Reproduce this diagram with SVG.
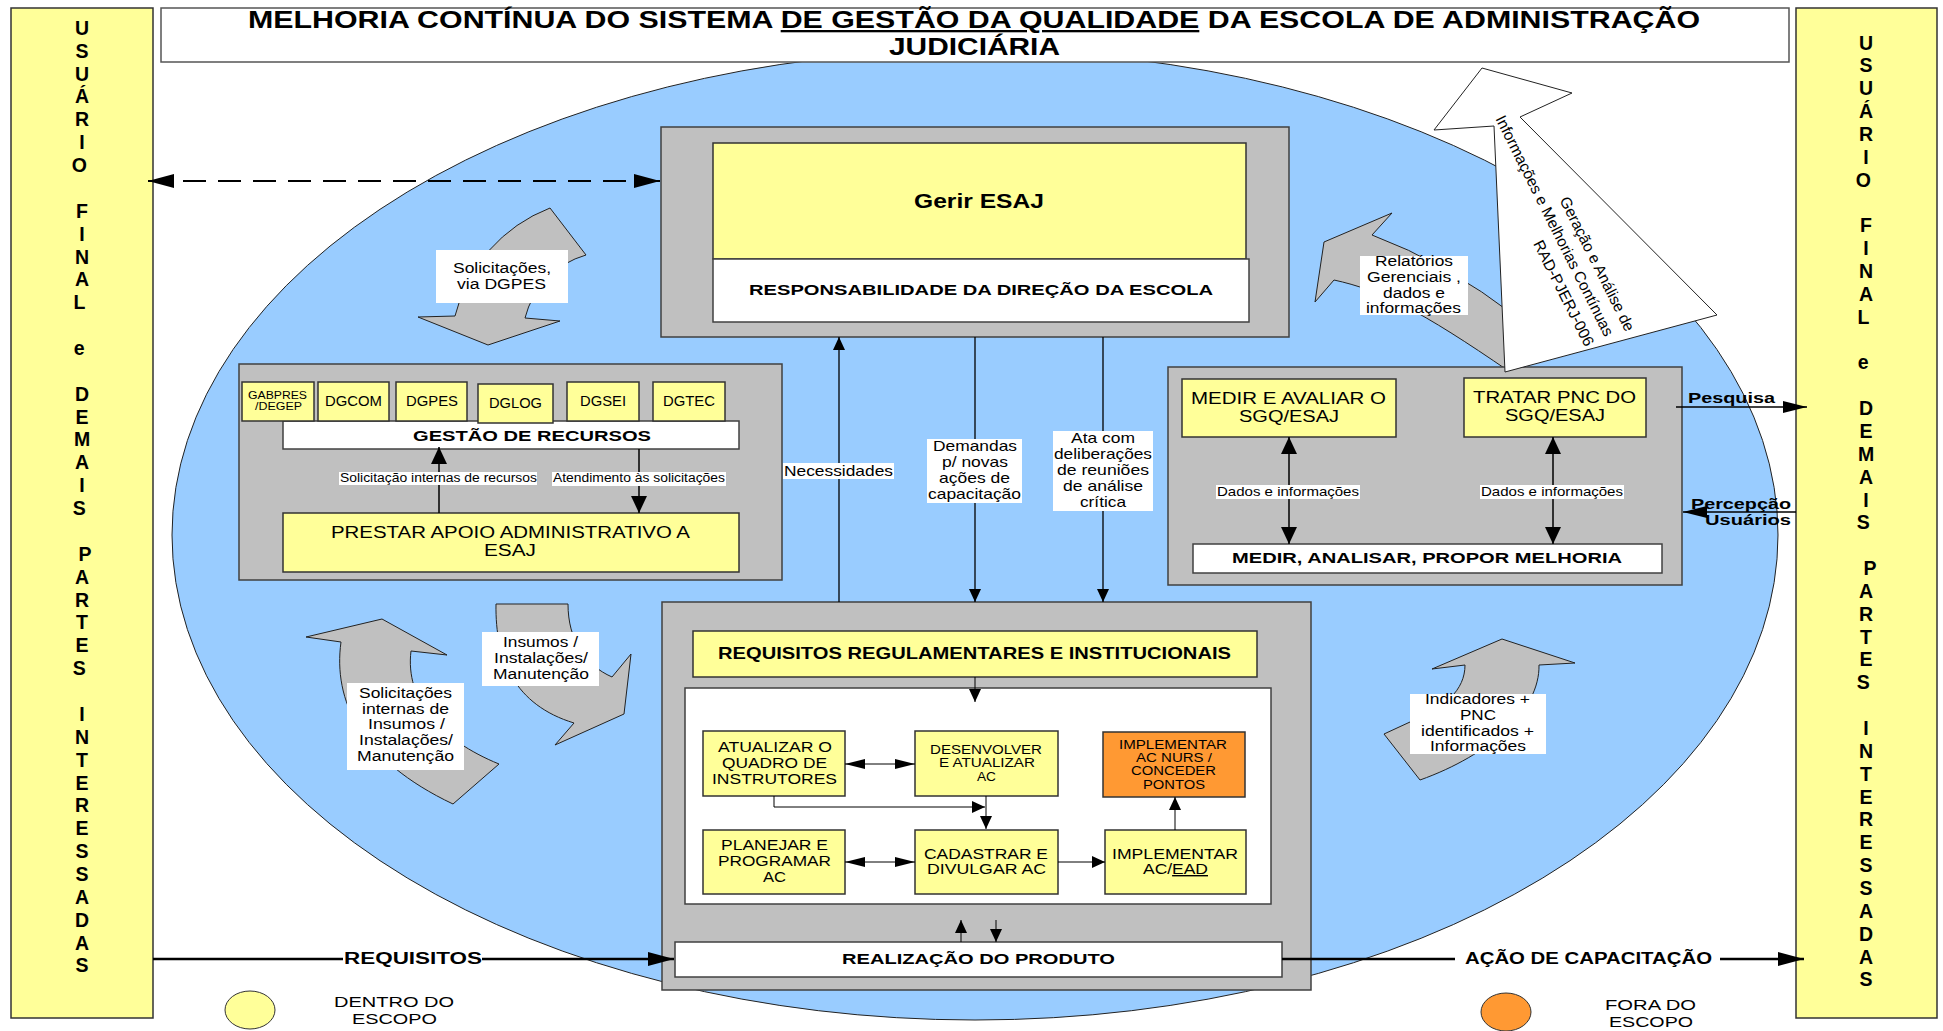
<svg xmlns="http://www.w3.org/2000/svg" width="1943" height="1031" viewBox="0 0 1943 1031">
<defs>
<style>
text{font-family:"Liberation Sans",Arial,sans-serif;fill:#000}
.b{font-weight:bold}
.yl{fill:#FFFF99;stroke:#333;stroke-width:1.5}
.gr{fill:#C0C0C0;stroke:#404040;stroke-width:1.5}
.wh{fill:#fff;stroke:#404040;stroke-width:1.5}
.or{fill:#FF9933;stroke:#333;stroke-width:1.5}
.bg{fill:#fff;stroke:none}
.sh{fill:#C0C0C0;stroke:#222;stroke-width:1}
.ln{stroke:#000;fill:none}
.side{font-weight:bold;font-size:19.5px;text-anchor:middle}
</style>
<marker id="aL" viewBox="0 0 26 14" refX="26" refY="7" markerWidth="26" markerHeight="14" markerUnits="userSpaceOnUse" orient="auto-start-reverse"><path d="M0,0L26,7L0,14z"/></marker>
<marker id="aM" viewBox="0 0 24 12" refX="24" refY="6" markerWidth="24" markerHeight="12" markerUnits="userSpaceOnUse" orient="auto-start-reverse"><path d="M0,0L24,6L0,12z"/></marker>
<marker id="aD" viewBox="0 0 17 16" refX="17" refY="8" markerWidth="17" markerHeight="16" markerUnits="userSpaceOnUse" orient="auto-start-reverse"><path d="M0,0L17,8L0,16z"/></marker>
<marker id="aS" viewBox="0 0 13 12" refX="13" refY="6" markerWidth="13" markerHeight="12" markerUnits="userSpaceOnUse" orient="auto-start-reverse"><path d="M0,0L13,6L0,12z"/></marker>
<marker id="aH" viewBox="0 0 20 10" refX="20" refY="5" markerWidth="20" markerHeight="10" markerUnits="userSpaceOnUse" orient="auto-start-reverse"><path d="M0,0L20,5L0,10z"/></marker>
</defs>
<rect x="0" y="0" width="1943" height="1031" fill="#fff"/>
<ellipse id="escopo" cx="975" cy="535" rx="803" ry="485" fill="#99CCFF" stroke="#222" stroke-width="1"/>

<g id="titulo">
<rect x="161" y="8" width="1628" height="54" fill="#fff" stroke="#555" stroke-width="1.5"/>
<text class="b" x="248" y="28" font-size="23" textLength="1452" lengthAdjust="spacingAndGlyphs">MELHORIA CONTÍNUA DO SISTEMA <tspan text-decoration="underline">DE GESTÃO DA QUALIDADE</tspan> DA ESCOLA DE ADMINISTRAÇÃO</text>
<text class="b" x="889" y="55" font-size="23" textLength="171" lengthAdjust="spacingAndGlyphs">JUDICIÁRIA</text>
</g>

<g id="usuario-esq">
<rect x="11" y="8" width="142" height="1010" class="yl"/>
<text class="side">
<tspan x="82" y="34.8">U</tspan><tspan x="82" y="57.67">S</tspan><tspan x="82" y="80.54">U</tspan><tspan x="82" y="103.41">Á</tspan><tspan x="82" y="126.28">R</tspan><tspan x="82" y="149.15">I</tspan><tspan x="82" y="172.02">O</tspan>
<tspan x="82" y="217.76">F</tspan><tspan x="82" y="240.63">I</tspan><tspan x="82" y="263.5">N</tspan><tspan x="82" y="286.37">A</tspan><tspan x="82" y="309.24">L</tspan>
<tspan x="82" y="354.98">e</tspan>
<tspan x="82" y="400.72">D</tspan><tspan x="82" y="423.59">E</tspan><tspan x="82" y="446.46">M</tspan><tspan x="82" y="469.33">A</tspan><tspan x="82" y="492.2">I</tspan><tspan x="82" y="515.07">S</tspan>
<tspan x="85" y="560.81">P</tspan><tspan x="82" y="583.68">A</tspan><tspan x="82" y="606.55">R</tspan><tspan x="82" y="629.42">T</tspan><tspan x="82" y="652.29">E</tspan><tspan x="82" y="675.16">S</tspan>
<tspan x="82" y="720.9">I</tspan><tspan x="82" y="743.77">N</tspan><tspan x="82" y="766.64">T</tspan><tspan x="82" y="789.51">E</tspan><tspan x="82" y="812.38">R</tspan><tspan x="82" y="835.25">E</tspan><tspan x="82" y="858.12">S</tspan><tspan x="82" y="880.99">S</tspan><tspan x="82" y="903.86">A</tspan><tspan x="82" y="926.73">D</tspan><tspan x="82" y="949.6">A</tspan><tspan x="82" y="972.47">S</tspan>
</text>
</g>

<g id="usuario-dir">
<rect x="1796" y="8" width="141" height="1010" class="yl"/>
<text class="side">
<tspan x="1866" y="49.5">U</tspan><tspan x="1866" y="72.35">S</tspan><tspan x="1866" y="95.2">U</tspan><tspan x="1866" y="118.05">Á</tspan><tspan x="1866" y="140.9">R</tspan><tspan x="1866" y="163.75">I</tspan><tspan x="1866" y="186.6">O</tspan>
<tspan x="1866" y="232.3">F</tspan><tspan x="1866" y="255.15">I</tspan><tspan x="1866" y="278">N</tspan><tspan x="1866" y="300.85">A</tspan><tspan x="1866" y="323.7">L</tspan>
<tspan x="1866" y="369.4">e</tspan>
<tspan x="1866" y="415.1">D</tspan><tspan x="1866" y="437.95">E</tspan><tspan x="1866" y="460.8">M</tspan><tspan x="1866" y="483.65">A</tspan><tspan x="1866" y="506.5">I</tspan><tspan x="1866" y="529.35">S</tspan>
<tspan x="1870" y="575.05">P</tspan><tspan x="1866" y="597.9">A</tspan><tspan x="1866" y="620.75">R</tspan><tspan x="1866" y="643.6">T</tspan><tspan x="1866" y="666.45">E</tspan><tspan x="1866" y="689.3">S</tspan>
<tspan x="1866" y="735">I</tspan><tspan x="1866" y="757.85">N</tspan><tspan x="1866" y="780.7">T</tspan><tspan x="1866" y="803.55">E</tspan><tspan x="1866" y="826.4">R</tspan><tspan x="1866" y="849.25">E</tspan><tspan x="1866" y="872.1">S</tspan><tspan x="1866" y="894.95">S</tspan><tspan x="1866" y="917.8">A</tspan><tspan x="1866" y="940.65">D</tspan><tspan x="1866" y="963.5">A</tspan><tspan x="1866" y="986.35">S</tspan>
</text>
</g>

<g id="seta-solicitacoes-dgpes">
<path class="sh" d="M550,208 A155,155 0 0 0 455,316 L418,317 L488,345 L560,321 L525,318 A88,88 0 0 1 586,255 Z"/>
<rect class="bg" x="436" y="250" width="132" height="53"/>
<text font-size="14"><tspan x="453" y="273" textLength="98" lengthAdjust="spacingAndGlyphs">Solicitações,</tspan><tspan x="457" y="289" textLength="89" lengthAdjust="spacingAndGlyphs">via DGPES</tspan></text>
</g>

<g id="seta-relatorios">
<path class="sh" d="M1392,213 L1324,242 L1315,302 L1334,280 C1380,290 1420,310 1510,372 L1518,318 Q1445,262 1372,235 Z"/>
<rect class="bg" x="1360" y="256" width="108" height="59"/>
<text font-size="14"><tspan x="1375" y="266" textLength="78" lengthAdjust="spacingAndGlyphs">Relatórios</tspan><tspan x="1367" y="282" textLength="94" lengthAdjust="spacingAndGlyphs">Gerenciais ,</tspan><tspan x="1383" y="298" textLength="62" lengthAdjust="spacingAndGlyphs">dados e</tspan><tspan x="1366" y="313" textLength="95" lengthAdjust="spacingAndGlyphs">informações</tspan></text>
</g>

<g id="seta-solicitacoes-insumos">
<path class="sh" d="M382,619 L447,655 L411,651 C405,700 440,740 499,764 L453,804 C360,760 333,700 341,642 L306,637 Z"/>
<rect class="bg" x="347" y="683" width="117" height="87"/>
<text font-size="14"><tspan x="359" y="698" textLength="93" lengthAdjust="spacingAndGlyphs">Solicitações</tspan><tspan x="362" y="714" textLength="87" lengthAdjust="spacingAndGlyphs">internas de</tspan><tspan x="368" y="729" textLength="77" lengthAdjust="spacingAndGlyphs">Insumos /</tspan><tspan x="359" y="745" textLength="94" lengthAdjust="spacingAndGlyphs">Instalações/</tspan><tspan x="357" y="761" textLength="97" lengthAdjust="spacingAndGlyphs">Manutenção</tspan></text>
</g>

<g id="seta-insumos">
<path class="sh" d="M496,604 L568,604 C568,640 585,665 612,677 L631,654 L624,714 L555,745 L574,723 C515,705 495,660 496,604 Z"/>
<rect class="bg" x="482" y="632" width="117" height="54"/>
<text font-size="14"><tspan x="503" y="647" textLength="75" lengthAdjust="spacingAndGlyphs">Insumos /</tspan><tspan x="494" y="663" textLength="94" lengthAdjust="spacingAndGlyphs">Instalações/</tspan><tspan x="493" y="679" textLength="96" lengthAdjust="spacingAndGlyphs">Manutenção</tspan></text>
</g>

<g id="seta-indicadores">
<path class="sh" d="M1502,639 L1575,663 L1539,665 C1540,710 1490,755 1420,780 L1384,734 L1410,722 C1445,708 1465,690 1465,665 L1432,669 Z"/>
<rect class="bg" x="1410" y="694" width="136" height="60"/>
<text font-size="14"><tspan x="1425" y="704" textLength="105" lengthAdjust="spacingAndGlyphs">Indicadores +</tspan><tspan x="1460" y="720" textLength="36" lengthAdjust="spacingAndGlyphs">PNC</tspan><tspan x="1421" y="736" textLength="113" lengthAdjust="spacingAndGlyphs">identificados +</tspan><tspan x="1430" y="751" textLength="96" lengthAdjust="spacingAndGlyphs">Informações</tspan></text>
</g>

<g id="gerir-esaj">
<rect x="661" y="127" width="628" height="210" class="gr"/>
<rect x="713" y="143" width="533" height="116" class="yl"/>
<rect x="713" y="259" width="536" height="63" class="wh"/>
<text class="b" x="914" y="208" font-size="21" textLength="130" lengthAdjust="spacingAndGlyphs">Gerir ESAJ</text>
<text class="b" x="749" y="295" font-size="15.5" textLength="464" lengthAdjust="spacingAndGlyphs">RESPONSABILIDADE DA DIREÇÃO DA ESCOLA</text>
</g>

<g id="gestao-recursos">
<rect x="239" y="364" width="543" height="216" class="gr"/>
<rect x="283" y="421" width="456" height="28" class="wh"/>
<rect x="242" y="382" width="72" height="39" class="yl"/>
<rect x="318" y="382" width="71" height="39" class="yl"/>
<rect x="396" y="382" width="71" height="39" class="yl"/>
<rect x="478" y="384" width="75" height="39" class="yl"/>
<rect x="567" y="382" width="72" height="39" class="yl"/>
<rect x="653" y="382" width="72" height="39" class="yl"/>
<text font-size="10"><tspan x="248" y="399" textLength="59" lengthAdjust="spacingAndGlyphs">GABPRES</tspan><tspan x="255" y="410" textLength="47" lengthAdjust="spacingAndGlyphs">/DEGEP</tspan></text>
<text font-size="14" x="325" y="406" textLength="57" lengthAdjust="spacingAndGlyphs">DGCOM</text>
<text font-size="14" x="406" y="406" textLength="52" lengthAdjust="spacingAndGlyphs">DGPES</text>
<text font-size="14" x="489" y="408" textLength="53" lengthAdjust="spacingAndGlyphs">DGLOG</text>
<text font-size="14" x="580" y="406" textLength="46" lengthAdjust="spacingAndGlyphs">DGSEI</text>
<text font-size="14" x="663" y="406" textLength="52" lengthAdjust="spacingAndGlyphs">DGTEC</text>
<text class="b" font-size="15" x="413" y="441" textLength="238" lengthAdjust="spacingAndGlyphs">GESTÃO DE RECURSOS</text>
<rect x="283" y="513" width="456" height="59" class="yl"/>
<text font-size="16"><tspan x="331" y="538" textLength="359" lengthAdjust="spacingAndGlyphs">PRESTAR APOIO ADMINISTRATIVO A</tspan><tspan x="484" y="556" textLength="52" lengthAdjust="spacingAndGlyphs">ESAJ</tspan></text>
</g>

<g id="medir-analisar">
<rect x="1168" y="367" width="514" height="218" class="gr"/>
<rect x="1182" y="379" width="214" height="58" class="yl"/>
<text font-size="16"><tspan x="1191" y="404" textLength="195" lengthAdjust="spacingAndGlyphs">MEDIR E AVALIAR O</tspan><tspan x="1239" y="422" textLength="100" lengthAdjust="spacingAndGlyphs">SGQ/ESAJ</tspan></text>
<rect x="1464" y="378" width="182" height="59" class="yl"/>
<text font-size="16"><tspan x="1473" y="403" textLength="163" lengthAdjust="spacingAndGlyphs">TRATAR PNC DO</tspan><tspan x="1505" y="421" textLength="100" lengthAdjust="spacingAndGlyphs">SGQ/ESAJ</tspan></text>
<rect x="1193" y="544" width="469" height="29" class="wh"/>
<text class="b" font-size="15.5" x="1232" y="563" textLength="390" lengthAdjust="spacingAndGlyphs">MEDIR, ANALISAR, PROPOR MELHORIA</text>
</g>

<g id="realizacao">
<rect x="662" y="602" width="649" height="388" class="gr"/>
<rect x="693" y="631" width="564" height="46" class="yl"/>
<text class="b" font-size="16.5" x="718" y="659" textLength="513" lengthAdjust="spacingAndGlyphs">REQUISITOS REGULAMENTARES E INSTITUCIONAIS</text>
<rect x="685" y="688" width="586" height="216" fill="#fff" stroke="#404040" stroke-width="1.5"/>
<rect x="675" y="942" width="607" height="35" class="wh"/>
<text class="b" font-size="15.5" x="842" y="964" textLength="273" lengthAdjust="spacingAndGlyphs">REALIZAÇÃO DO PRODUTO</text>
</g>

<g id="atualizar-quadro">
<rect x="703" y="731" width="142" height="65" class="yl"/>
<text font-size="14"><tspan x="718" y="752" textLength="114" lengthAdjust="spacingAndGlyphs">ATUALIZAR O</tspan><tspan x="722" y="768" textLength="105" lengthAdjust="spacingAndGlyphs">QUADRO DE</tspan><tspan x="712" y="784" textLength="125" lengthAdjust="spacingAndGlyphs">INSTRUTORES</tspan></text>
</g>
<g id="desenvolver-ac">
<rect x="915" y="731" width="143" height="65" class="yl"/>
<text font-size="12.5"><tspan x="930" y="754" textLength="112" lengthAdjust="spacingAndGlyphs">DESENVOLVER</tspan><tspan x="939" y="767" textLength="96" lengthAdjust="spacingAndGlyphs">E ATUALIZAR</tspan><tspan x="977" y="781" textLength="19" lengthAdjust="spacingAndGlyphs">AC</tspan></text>
</g>
<g id="implementar-nurs">
<rect x="1103" y="732" width="142" height="65" class="or"/>
<text font-size="12.5"><tspan x="1119" y="749" textLength="108" lengthAdjust="spacingAndGlyphs">IMPLEMENTAR</tspan><tspan x="1136" y="762" textLength="76" lengthAdjust="spacingAndGlyphs">AC NURS /</tspan><tspan x="1131" y="775" textLength="85" lengthAdjust="spacingAndGlyphs">CONCEDER</tspan><tspan x="1143" y="789" textLength="62" lengthAdjust="spacingAndGlyphs">PONTOS</tspan></text>
</g>
<g id="planejar-ac">
<rect x="703" y="830" width="142" height="64" class="yl"/>
<text font-size="14"><tspan x="721" y="850" textLength="107" lengthAdjust="spacingAndGlyphs">PLANEJAR E</tspan><tspan x="718" y="866" textLength="113" lengthAdjust="spacingAndGlyphs">PROGRAMAR</tspan><tspan x="763" y="882" textLength="23" lengthAdjust="spacingAndGlyphs">AC</tspan></text>
</g>
<g id="cadastrar-ac">
<rect x="915" y="830" width="143" height="64" class="yl"/>
<text font-size="14"><tspan x="924" y="859" textLength="124" lengthAdjust="spacingAndGlyphs">CADASTRAR E</tspan><tspan x="927" y="874" textLength="119" lengthAdjust="spacingAndGlyphs">DIVULGAR AC</tspan></text>
</g>
<g id="implementar-ead">
<rect x="1105" y="830" width="141" height="64" class="yl"/>
<text font-size="14"><tspan x="1112" y="859" textLength="126" lengthAdjust="spacingAndGlyphs">IMPLEMENTAR</tspan></text>
<text font-size="14" x="1143" y="874" textLength="65" lengthAdjust="spacingAndGlyphs">AC/<tspan text-decoration="underline">EAD</tspan></text>
</g>

<g id="seta-geracao">
<path d="M1482,68 L1572,93 L1520,117 L1717,315 L1505,372 L1494,126 L1434,130 Z" fill="#fff" stroke="#222" stroke-width="1"/>
<g transform="translate(1604.7,337.5) rotate(63.4)">
<text font-size="15.5" text-anchor="end"><tspan x="5" y="-21">Geração e Análise de</tspan><tspan x="0" y="0">Informações e Melhorias Contínuas</tspan><tspan x="0" y="22">RAD-PJERJ-006</tspan></text>
</g>
</g>

<g id="conectores">
<path class="ln" d="M148,181 H660" stroke-width="2.2" stroke-dasharray="23 12" marker-start="url(#aL)" marker-end="url(#aL)"/>
<path class="ln" d="M839,602 V337" stroke-width="1.3" marker-end="url(#aS)"/>
<path class="ln" d="M975,337 V602" stroke-width="1.3" marker-end="url(#aS)"/>
<path class="ln" d="M1103,337 V602" stroke-width="1.3" marker-end="url(#aS)"/>
<path class="ln" d="M439,513 V447" stroke-width="1.5" marker-end="url(#aD)"/>
<path class="ln" d="M639,449 V513" stroke-width="1.5" marker-end="url(#aD)"/>
<path class="ln" d="M1289,437 V544" stroke-width="1.5" marker-start="url(#aD)" marker-end="url(#aD)"/>
<path class="ln" d="M1553,437 V544" stroke-width="1.5" marker-start="url(#aD)" marker-end="url(#aD)"/>
<path class="ln" d="M1676,407 H1807" stroke-width="1.5" marker-end="url(#aM)"/>
<path class="ln" d="M1796,512 H1683" stroke-width="1.5" marker-end="url(#aM)"/>
<path class="ln" d="M153,959 H674" stroke-width="2.3" marker-end="url(#aL)"/>
<path class="ln" d="M1282,959 H1804" stroke-width="2.3" marker-end="url(#aL)"/>
<path class="ln" d="M975,677 V702" stroke-width="1" marker-end="url(#aS)"/>
<path class="ln" d="M845,764 H915" stroke-width="1" marker-start="url(#aH)" marker-end="url(#aH)"/>
<path class="ln" d="M845,862 H915" stroke-width="1" marker-start="url(#aH)" marker-end="url(#aH)"/>
<path class="ln" d="M774,796 V807 H985" stroke-width="1" marker-end="url(#aS)"/>
<path class="ln" d="M986,796 V829" stroke-width="1" marker-end="url(#aS)"/>
<path class="ln" d="M1058,862 H1105" stroke-width="1" marker-end="url(#aS)"/>
<path class="ln" d="M1175,830 V797" stroke-width="1" marker-end="url(#aS)"/>
<path class="ln" d="M961,942 V920" stroke-width="1" marker-end="url(#aS)"/>
<path class="ln" d="M996,920 V942" stroke-width="1" marker-end="url(#aS)"/>
</g>

<g id="rotulos">
<rect class="bg" x="339" y="472" width="198" height="13"/>
<text font-size="12.5" x="340" y="482" textLength="197" lengthAdjust="spacingAndGlyphs">Solicitação internas de recursos</text>
<rect class="bg" x="552" y="472" width="174" height="14"/>
<text font-size="12.5" x="553" y="482" textLength="172" lengthAdjust="spacingAndGlyphs">Atendimento às solicitações</text>
<rect class="bg" x="783" y="463" width="111" height="16"/>
<text font-size="15" x="784" y="476" textLength="109" lengthAdjust="spacingAndGlyphs">Necessidades</text>
<rect class="bg" x="927" y="439" width="95" height="64"/>
<text font-size="15"><tspan x="933" y="451" textLength="84" lengthAdjust="spacingAndGlyphs">Demandas</tspan><tspan x="942" y="467" textLength="66" lengthAdjust="spacingAndGlyphs">p/ novas</tspan><tspan x="939" y="483" textLength="71" lengthAdjust="spacingAndGlyphs">ações de</tspan><tspan x="928" y="499" textLength="93" lengthAdjust="spacingAndGlyphs">capacitação</tspan></text>
<rect class="bg" x="1053" y="431" width="100" height="80"/>
<text font-size="15"><tspan x="1071" y="443" textLength="64" lengthAdjust="spacingAndGlyphs">Ata com</tspan><tspan x="1054" y="459" textLength="98" lengthAdjust="spacingAndGlyphs">deliberações</tspan><tspan x="1057" y="475" textLength="92" lengthAdjust="spacingAndGlyphs">de reuniões</tspan><tspan x="1063" y="491" textLength="80" lengthAdjust="spacingAndGlyphs">de análise</tspan><tspan x="1080" y="507" textLength="46" lengthAdjust="spacingAndGlyphs">crítica</tspan></text>
<rect class="bg" x="1216" y="485" width="144" height="14"/>
<text font-size="13" x="1217" y="496" textLength="142" lengthAdjust="spacingAndGlyphs">Dados e informações</text>
<rect class="bg" x="1480" y="485" width="144" height="14"/>
<text font-size="13" x="1481" y="496" textLength="142" lengthAdjust="spacingAndGlyphs">Dados e informações</text>
<text class="b" font-size="15" x="1688" y="403" textLength="87" lengthAdjust="spacingAndGlyphs">Pesquisa</text>
<text class="b" font-size="15"><tspan x="1691" y="509" textLength="100" lengthAdjust="spacingAndGlyphs">Percepção</tspan><tspan x="1705" y="525" textLength="86" lengthAdjust="spacingAndGlyphs">Usuários</tspan></text>
<rect class="bg" x="343" y="948" width="139" height="20"/>
<text class="b" font-size="16" x="344" y="964" textLength="138" lengthAdjust="spacingAndGlyphs">REQUISITOS</text>
<rect class="bg" x="1455" y="948" width="265" height="20"/>
<text class="b" font-size="16" x="1465" y="964" textLength="247" lengthAdjust="spacingAndGlyphs">AÇÃO DE CAPACITAÇÃO</text>
</g>

<g id="legenda-dentro">
<ellipse cx="250" cy="1010" rx="25" ry="19" fill="#FFFF99" stroke="#333" stroke-width="1"/>
<text font-size="15.5"><tspan x="334" y="1007" textLength="120" lengthAdjust="spacingAndGlyphs">DENTRO DO</tspan><tspan x="352" y="1024" textLength="85" lengthAdjust="spacingAndGlyphs">ESCOPO</tspan></text>
</g>
<g id="legenda-fora">
<ellipse cx="1506" cy="1012" rx="25" ry="19" fill="#FF9933" stroke="#333" stroke-width="1"/>
<text font-size="15.5"><tspan x="1605" y="1010" textLength="91" lengthAdjust="spacingAndGlyphs">FORA DO</tspan><tspan x="1609" y="1027" textLength="84" lengthAdjust="spacingAndGlyphs">ESCOPO</tspan></text>
</g>
</svg>
